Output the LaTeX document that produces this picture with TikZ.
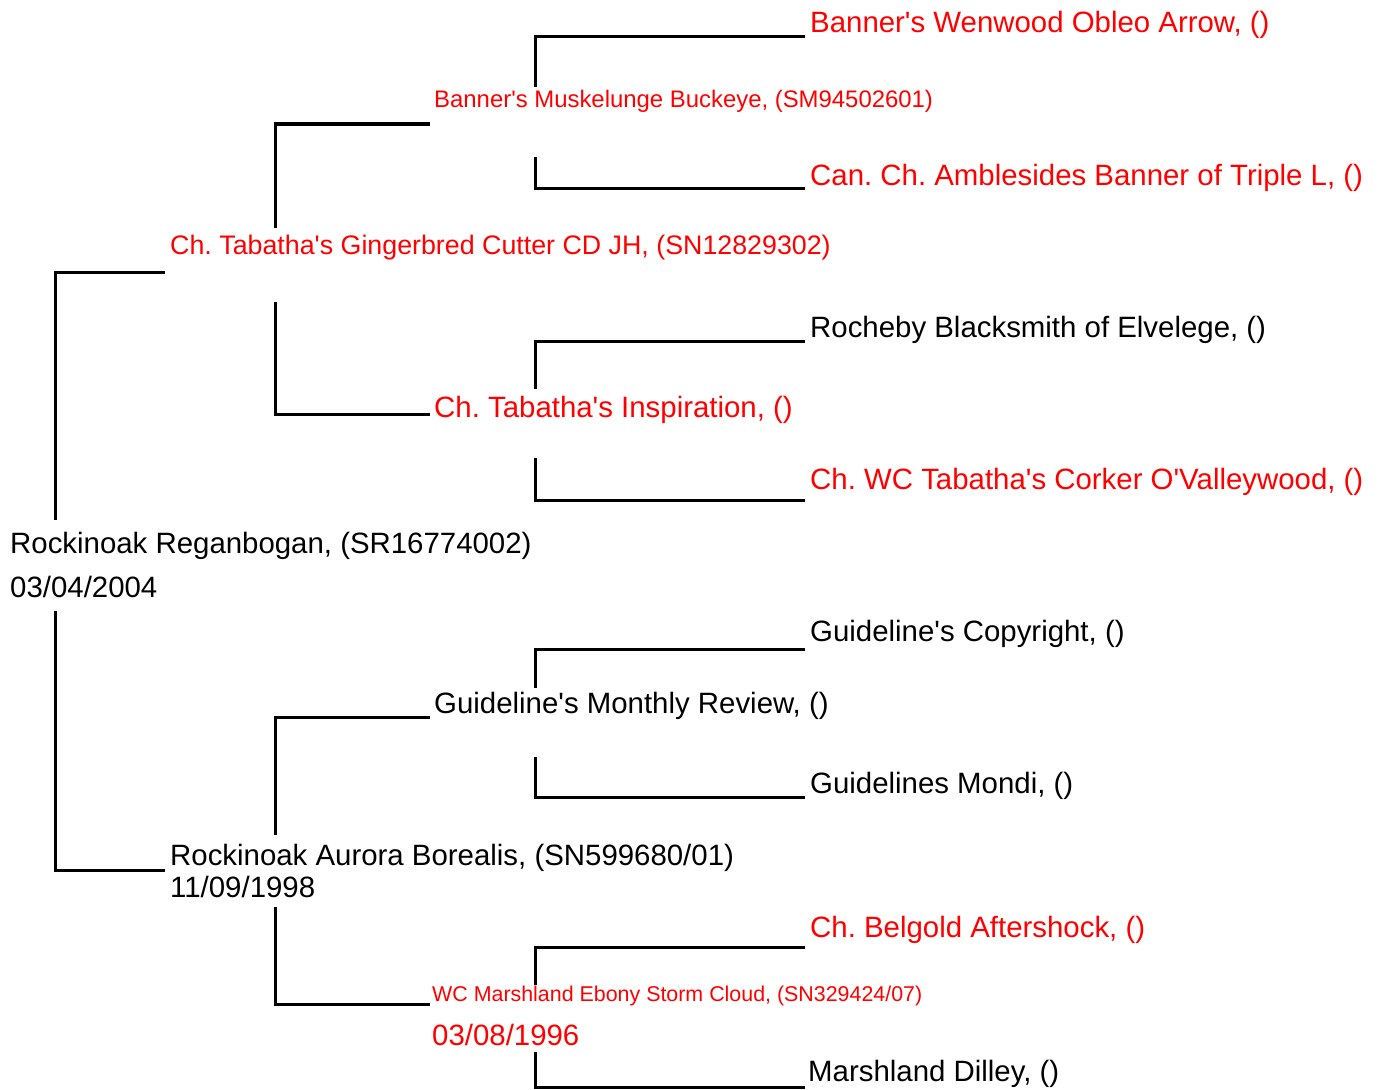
\documentclass[tikz,border=0pt]{standalone}
\usepackage{fontspec}
\setmainfont{Liberation Sans}[Ligatures=TeXOff]
\frenchspacing
\tikzset{
  lbl/.style={anchor=base west, inner sep=0pt, font=\fontsize{29.4}{34}\selectfont},
  redlbl/.style={lbl, text=red},
  link/.style={line width=3pt, line join=miter, line cap=butt},
}
\begin{document}
\frenchspacing
\begin{tikzpicture}[x=1pt, y=-1pt]
\useasboundingbox (0,0) rectangle (1380,1089);
% text nodes
\node[redlbl] (g1) at (810,33) {Banner's Wenwood Obleo Arrow, ()};
\node[redlbl, font=\fontsize{23.9}{28}\selectfont] (p1) at (434,107) {Banner's Muskelunge Buckeye, (SM94502601)};
\node[redlbl] (g2) at (810,185) {Can. Ch. Amblesides Banner of Triple L, ()};
\node[redlbl, font=\fontsize{26.8}{31}\selectfont] (s) at (170,254) {Ch. Tabatha's Gingerbred Cutter CD JH, (SN12829302)};
\node[lbl] (g3) at (810,337) {Rocheby Blacksmith of Elvelege, ()};
\node[redlbl] (p2) at (434,417) {Ch. Tabatha's Inspiration, ()};
\node[redlbl] (g4) at (810,489) {Ch. WC Tabatha's Corker O'Valleywood, ()};
\node[lbl] (root) at (10,553) {Rockinoak Reganbogan, (SR16774002)};
\node[lbl] (rootd) at (10,597) {03/04/2004};
\node[lbl] (g5) at (810,641) {Guideline's Copyright, ()};
\node[lbl] (p3) at (434,713) {Guideline's Monthly Review, ()};
\node[lbl] (g6) at (810,793) {Guidelines Mondi, ()};
\node[lbl] (d) at (170,865) {Rockinoak Aurora Borealis, (SN599680/01)};
\node[lbl] (dd) at (170,897) {11/09/1998};
\node[redlbl] (g7) at (810,937) {Ch. Belgold Aftershock, ()};
\node[redlbl, font=\fontsize{21.4}{25}\selectfont] (p4) at (432,1001) {WC Marshland Ebony Storm Cloud, (SN329424/07)};
\node[redlbl] (p4d) at (432,1045) {03/08/1996};
\node[lbl] (g8) at (808,1081) {Marshland Dilley, ()};
% connector coordinates
\coordinate (rs0) at (55,520);  \coordinate (rs1) at (55,272);  \coordinate (rs2) at (165,272);
\coordinate (rd0) at (55,611);  \coordinate (rd1) at (55,870);  \coordinate (rd2) at (165,870);
\coordinate (ss0) at (275,228); \coordinate (ss1) at (275,124); \coordinate (ss2) at (430,124);
\coordinate (sd0) at (275,302); \coordinate (sd1) at (275,414); \coordinate (sd2) at (430,414);
\coordinate (a0) at (535,87);   \coordinate (a1) at (535,37);   \coordinate (a2) at (805,37);
\coordinate (b0) at (535,157);  \coordinate (b1) at (535,188);  \coordinate (b2) at (805,188);
\coordinate (c0) at (535,389);  \coordinate (c1) at (535,341);  \coordinate (c2) at (805,341);
\coordinate (e0) at (535,458);  \coordinate (e1) at (535,500);  \coordinate (e2) at (805,500);
\coordinate (ds0) at (275,835); \coordinate (ds1) at (275,717); \coordinate (ds2) at (430,717);
\coordinate (dd0) at (275,907); \coordinate (dd1) at (275,1004); \coordinate (dd2) at (430,1004);
\coordinate (f0) at (535,688);  \coordinate (f1) at (535,649);  \coordinate (f2) at (805,649);
\coordinate (h0) at (535,757);  \coordinate (h1) at (535,797);  \coordinate (h2) at (805,797);
\coordinate (k0) at (535,985);  \coordinate (k1) at (535,947);  \coordinate (k2) at (805,947);
\coordinate (m0) at (535,1052); \coordinate (m1) at (535,1087); \coordinate (m2) at (805,1087);
% connectors
\draw[link] (rs0) -- (rs1) -- (rs2);
\draw[link] (rd0) -- (rd1) -- (rd2);
\draw[link] (ss0) -- (ss1) -- (ss2);
\draw[link] (sd0) -- (sd1) -- (sd2);
\draw[link] (a0) -- (a1) -- (a2);
\draw[link] (b0) -- (b1) -- (b2);
\draw[link] (c0) -- (c1) -- (c2);
\draw[link] (e0) -- (e1) -- (e2);
\draw[link] (ds0) -- (ds1) -- (ds2);
\draw[link] (dd0) -- (dd1) -- (dd2);
\draw[link] (f0) -- (f1) -- (f2);
\draw[link] (h0) -- (h1) -- (h2);
\draw[link] (k0) -- (k1) -- (k2);
\draw[link] (m0) -- (m1) -- (m2);
\end{tikzpicture}
\end{document}
